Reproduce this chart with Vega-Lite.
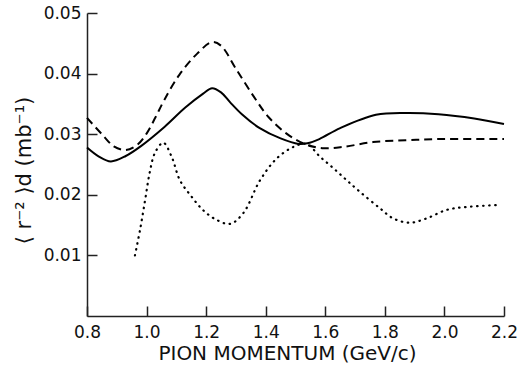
{
  "$schema": "https://vega.github.io/schema/vega-lite/v6.json",
  "autosize": "none",
  "width": 417,
  "height": 303,
  "padding": {"left": 87, "top": 13, "right": 15, "bottom": 51},
  "background": "white",
  "config": {
    "view": {"stroke": null},
    "axis": {
      "labelFont": "DejaVu Sans",
      "titleFont": "DejaVu Sans",
      "labelColor": "#111",
      "titleColor": "#111",
      "domainColor": "#222",
      "tickColor": "#222",
      "domainWidth": 1.5,
      "tickWidth": 1.5,
      "grid": false,
      "titleFontWeight": "normal"
    }
  },
  "data": {
    "values": [
      {"series": "solid", "p": 0.80, "r": 0.0278},
      {"series": "solid", "p": 0.84, "r": 0.0263},
      {"series": "solid", "p": 0.88, "r": 0.0255},
      {"series": "solid", "p": 0.93, "r": 0.0264},
      {"series": "solid", "p": 0.98, "r": 0.0280},
      {"series": "solid", "p": 1.06, "r": 0.0312},
      {"series": "solid", "p": 1.13, "r": 0.0344},
      {"series": "solid", "p": 1.19, "r": 0.0367},
      {"series": "solid", "p": 1.22, "r": 0.0376},
      {"series": "solid", "p": 1.25, "r": 0.0369},
      {"series": "solid", "p": 1.28, "r": 0.0353},
      {"series": "solid", "p": 1.32, "r": 0.0333},
      {"series": "solid", "p": 1.38, "r": 0.0310},
      {"series": "solid", "p": 1.45, "r": 0.0293},
      {"series": "solid", "p": 1.51, "r": 0.0284},
      {"series": "solid", "p": 1.54, "r": 0.0285},
      {"series": "solid", "p": 1.58, "r": 0.0292},
      {"series": "solid", "p": 1.65, "r": 0.0310},
      {"series": "solid", "p": 1.77, "r": 0.0332},
      {"series": "solid", "p": 1.87, "r": 0.0335},
      {"series": "solid", "p": 1.98, "r": 0.0333},
      {"series": "solid", "p": 2.10, "r": 0.0326},
      {"series": "solid", "p": 2.20, "r": 0.0317},
      {"series": "dashed", "p": 0.80, "r": 0.0327},
      {"series": "dashed", "p": 0.85, "r": 0.0300},
      {"series": "dashed", "p": 0.89, "r": 0.0280},
      {"series": "dashed", "p": 0.93, "r": 0.0274},
      {"series": "dashed", "p": 0.97, "r": 0.0283},
      {"series": "dashed", "p": 1.00, "r": 0.0301},
      {"series": "dashed", "p": 1.03, "r": 0.0328},
      {"series": "dashed", "p": 1.06, "r": 0.0357},
      {"series": "dashed", "p": 1.11, "r": 0.0398},
      {"series": "dashed", "p": 1.17, "r": 0.0433},
      {"series": "dashed", "p": 1.22, "r": 0.0452},
      {"series": "dashed", "p": 1.25, "r": 0.0446},
      {"series": "dashed", "p": 1.30, "r": 0.0408},
      {"series": "dashed", "p": 1.36, "r": 0.0362},
      {"series": "dashed", "p": 1.41, "r": 0.0328},
      {"series": "dashed", "p": 1.47, "r": 0.0301},
      {"series": "dashed", "p": 1.53, "r": 0.0284},
      {"series": "dashed", "p": 1.59, "r": 0.0277},
      {"series": "dashed", "p": 1.66, "r": 0.0279},
      {"series": "dashed", "p": 1.76, "r": 0.0287},
      {"series": "dashed", "p": 1.87, "r": 0.0290},
      {"series": "dashed", "p": 1.98, "r": 0.0292},
      {"series": "dashed", "p": 2.20, "r": 0.0292},
      {"series": "dotted", "p": 0.961, "r": 0.0100},
      {"series": "dotted", "p": 0.978, "r": 0.0142},
      {"series": "dotted", "p": 0.995, "r": 0.0191},
      {"series": "dotted", "p": 1.011, "r": 0.0238},
      {"series": "dotted", "p": 1.028, "r": 0.0269},
      {"series": "dotted", "p": 1.056, "r": 0.0286},
      {"series": "dotted", "p": 1.084, "r": 0.0263},
      {"series": "dotted", "p": 1.112, "r": 0.0224},
      {"series": "dotted", "p": 1.151, "r": 0.0197},
      {"series": "dotted", "p": 1.189, "r": 0.0175},
      {"series": "dotted", "p": 1.23, "r": 0.0160},
      {"series": "dotted", "p": 1.28, "r": 0.0152},
      {"series": "dotted", "p": 1.325, "r": 0.0170},
      {"series": "dotted", "p": 1.381, "r": 0.0224},
      {"series": "dotted", "p": 1.437, "r": 0.0260},
      {"series": "dotted", "p": 1.493, "r": 0.0279},
      {"series": "dotted", "p": 1.537, "r": 0.0284},
      {"series": "dotted", "p": 1.582, "r": 0.0263},
      {"series": "dotted", "p": 1.627, "r": 0.0244},
      {"series": "dotted", "p": 1.672, "r": 0.0224},
      {"series": "dotted", "p": 1.716, "r": 0.0205},
      {"series": "dotted", "p": 1.783, "r": 0.0178},
      {"series": "dotted", "p": 1.828, "r": 0.0161},
      {"series": "dotted", "p": 1.884, "r": 0.0154},
      {"series": "dotted", "p": 1.94, "r": 0.0161},
      {"series": "dotted", "p": 2.007, "r": 0.0175},
      {"series": "dotted", "p": 2.075, "r": 0.0180},
      {"series": "dotted", "p": 2.18, "r": 0.0183}
    ]
  },
  "layer": [
    {
      "encoding": {
        "x": {
          "field": "p", "type": "quantitative",
          "scale": {"domain": [0.8, 2.2], "nice": false, "zero": false},
          "axis": {
            "values": [0.8, 1.0, 1.2, 1.4, 1.6, 1.8, 2.0, 2.2],
            "format": ".1f",
            "title": "PION MOMENTUM (GeV/c)",
            "ticks": false,
            "tickSize": 0,
            "labelPadding": 8,
            "labelFontSize": 17,
            "titleFontSize": 20,
            "titleFontWeight": "normal",
            "titlePadding": 3,
            "titleX": 200,
            "titleAlign": "center",
            "labelFlush": false
          }
        },
        "y": {
          "field": "r", "type": "quantitative",
          "scale": {"domain": [0, 0.05], "nice": false},
          "axis": {
            "values": [0.01, 0.02, 0.03, 0.04, 0.05],
            "format": ".2f",
            "title": "⟨ r⁻² ⟩d  (mb⁻¹)",
            "ticks": false,
            "tickSize": 0,
            "labelPadding": 6,
            "labelFontSize": 17,
            "titleFontSize": 21,
            "titlePadding": 9,
            "titleY": 157,
            "titleAlign": "center",
            "labelFlush": false
          }
        }
      },
      "layer": [
        {
          "transform": [{"filter": "datum.series == 'solid'"}],
          "mark": {"type": "line", "color": "black", "strokeWidth": 2, "interpolate": "catmull-rom"}
        },
        {
          "transform": [{"filter": "datum.series == 'dashed'"}],
          "mark": {"type": "line", "color": "black", "strokeWidth": 2, "strokeDash": [8, 5], "interpolate": "catmull-rom"}
        },
        {
          "transform": [{"filter": "datum.series == 'dotted'"}],
          "mark": {"type": "line", "color": "black", "strokeWidth": 2.2, "strokeDash": [0.5, 5.5], "strokeCap": "round", "interpolate": "catmull-rom"}
        }
      ]
    },
    {
      "mark": {"type": "point", "opacity": 0},
      "encoding": {
        "x": {
          "field": "p", "type": "quantitative",
          "axis": {
            "orient": "top",
            "offset": -303,
            "values": [0.8, 1.0, 1.2, 1.4, 1.6, 1.8, 2.0, 2.2],
            "labels": false,
            "domain": false,
            "title": null,
            "tickSize": 10
          }
        },
        "y": {
          "field": "r", "type": "quantitative",
          "axis": {
            "orient": "right",
            "offset": -417,
            "values": [0.01, 0.02, 0.03, 0.04, 0.05],
            "labels": false,
            "domain": false,
            "title": null,
            "tickSize": 10
          }
        }
      }
    }
  ],
  "resolve": {"axis": {"x": "independent", "y": "independent"}}
}
